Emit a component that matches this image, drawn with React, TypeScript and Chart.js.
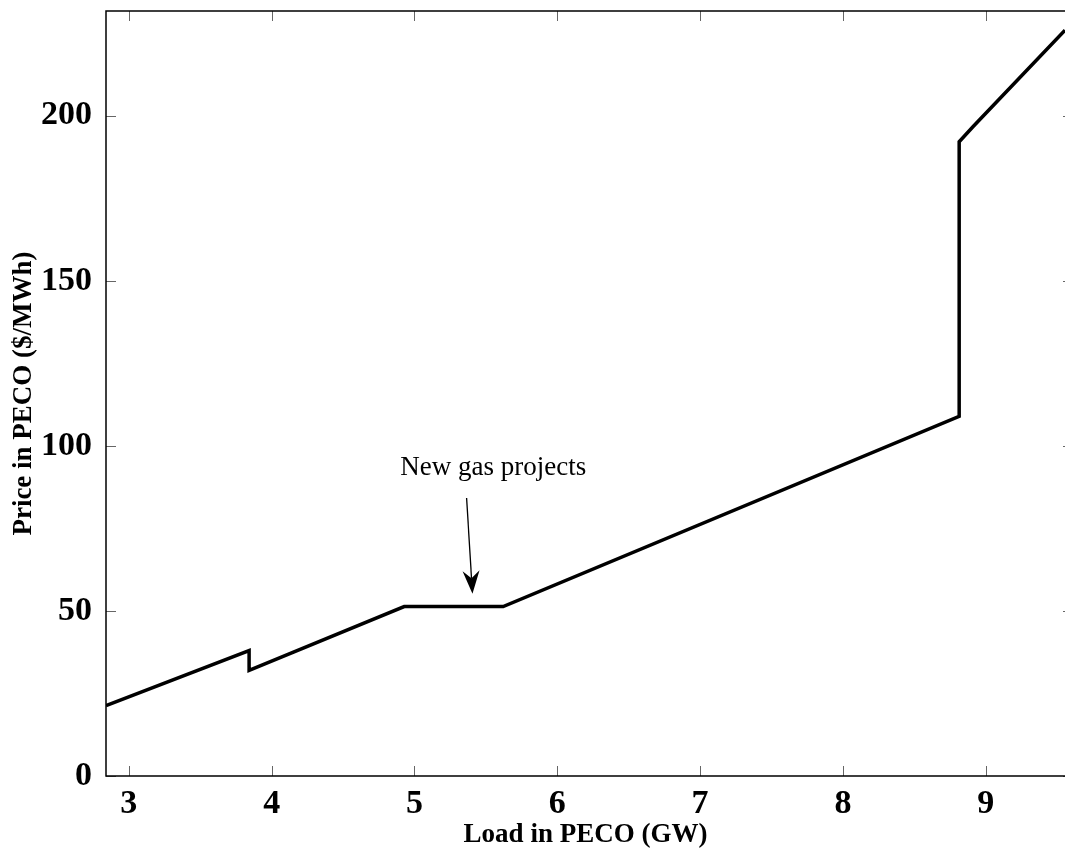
import { useEffect, useRef } from 'react';
import { Chart, registerables } from 'chart.js';

Chart.register(...registerables);

// Supply curve: price vs. load in PECO
const loadGW = [2.84, 3.842, 3.842, 4.928, 5.621, 8.814, 8.814, 8.912, 9.555];
const priceUSD = [21.3, 38.0, 32.0, 51.3, 51.3, 108.9, 192.1, 196.7, 225.9];

const xTicks = [3, 4, 5, 6, 7, 8, 9];
const yTicks = [0, 50, 100, 150, 200];
const xRange = [2.84, 9.555];
const yRange = [0, 231.7];

const noteText = 'New gas projects';
const noteAnchor = { x: 5.552, y: 91.2 };
const arrowTail = { x: 5.365, y: 84.2 };
const arrowTip = { x: 5.406, y: 55.2 };

const SERIF = "'Liberation Serif', 'Times New Roman', Times, serif";

const framePlugin = {
  id: 'frame',
  beforeDatasetsDraw(chart: any) {
    const { ctx, chartArea: a, scales } = chart;
    ctx.save();
    ctx.strokeStyle = '#666';
    ctx.lineWidth = 1;
    ctx.beginPath();
    for (const v of xTicks) {
      const px = Math.round(scales.x.getPixelForValue(v)) + 0.5;
      ctx.moveTo(px, a.bottom);
      ctx.lineTo(px, a.bottom - 10);
      ctx.moveTo(px, a.top);
      ctx.lineTo(px, a.top + 10);
    }
    for (const v of yTicks) {
      const py = Math.round(scales.y.getPixelForValue(v)) + 0.5;
      ctx.moveTo(a.left, py);
      ctx.lineTo(a.left + 10, py);
      ctx.moveTo(a.right, py);
      ctx.lineTo(a.right - 2, py);
    }
    ctx.stroke();
    // left, top and bottom edges of the axes box
    ctx.strokeStyle = '#000';
    ctx.lineWidth = 1.5;
    ctx.beginPath();
    ctx.moveTo(a.right, a.top);
    ctx.lineTo(a.left, a.top);
    ctx.lineTo(a.left, a.bottom);
    ctx.lineTo(a.right, a.bottom);
    ctx.stroke();
    ctx.restore();
  },
  afterDatasetsDraw(chart: any) {
    const { ctx, scales } = chart;
    const sx = scales.x, sy = scales.y;
    ctx.save();
    ctx.fillStyle = '#000';
    ctx.font = `27px ${SERIF}`;
    ctx.textAlign = 'center';
    ctx.textBaseline = 'alphabetic';
    ctx.fillText(noteText, sx.getPixelForValue(noteAnchor.x), sy.getPixelForValue(noteAnchor.y));

    const x0 = sx.getPixelForValue(arrowTail.x), y0 = sy.getPixelForValue(arrowTail.y);
    const x1 = sx.getPixelForValue(arrowTip.x), y1 = sy.getPixelForValue(arrowTip.y);
    const dx = x1 - x0, dy = y1 - y0;
    const len = Math.hypot(dx, dy);
    const ux = dx / len, uy = dy / len;
    const nx = -uy, ny = ux;
    const headLen = 23, headHalf = 8.5;
    const bx = x1 - ux * headLen, by = y1 - uy * headLen;
    const kx = x1 - ux * headLen * 0.68, ky = y1 - uy * headLen * 0.68;
    ctx.strokeStyle = '#000';
    ctx.lineWidth = 1.3;
    ctx.beginPath();
    ctx.moveTo(x0, y0);
    ctx.lineTo(kx, ky);
    ctx.stroke();
    ctx.beginPath();
    ctx.moveTo(x1, y1);
    ctx.lineTo(bx + nx * headHalf, by + ny * headHalf);
    ctx.lineTo(kx, ky);
    ctx.lineTo(bx - nx * headHalf, by - ny * headHalf);
    ctx.closePath();
    ctx.fill();
    ctx.restore();
  },
};

export default function App() {
  const ref = useRef<HTMLCanvasElement | null>(null);

  useEffect(() => {
    if (!ref.current) return;
    const chart = new Chart(ref.current, {
      type: 'line',
      data: {
        datasets: [
          {
            data: loadGW.map((x, i) => ({ x, y: priceUSD[i] })),
            borderColor: '#000',
            borderWidth: 3.5,
            pointRadius: 0,
            tension: 0,
            fill: false,
          },
        ],
      },
      options: {
        animation: false,
        responsive: false,
        devicePixelRatio: 1,
        layout: { padding: { top: 11, right: 0, left: 0, bottom: 0 } },
        plugins: { legend: { display: false }, tooltip: { enabled: false } },
        scales: {
          x: {
            type: 'linear',
            min: xRange[0],
            max: xRange[1],
            grid: { display: false },
            border: { display: false },
            afterBuildTicks: (s: any) => {
              s.ticks = xTicks.map((v) => ({ value: v }));
            },
            afterFit: (s: any) => {
              s.height = 74;
              s.paddingLeft = 0;
              s.paddingRight = 0;
            },
            ticks: {
              color: '#000',
              padding: 0,
              autoSkip: false,
              maxRotation: 0,
              font: { family: SERIF, size: 34, weight: 'bold' },
              callback: (v: any) => String(v),
            },
            title: {
              display: true,
              text: 'Load in PECO (GW)',
              color: '#000',
              padding: { top: 0, bottom: 0 },
              font: { family: SERIF, size: 27, weight: 'bold', lineHeight: 1.1 },
            },
          },
          y: {
            type: 'linear',
            min: yRange[0],
            max: yRange[1],
            grid: { display: false },
            border: { display: false },
            afterBuildTicks: (s: any) => {
              s.ticks = yTicks.map((v) => ({ value: v }));
            },
            afterFit: (s: any) => {
              s.width = 106;
              s.paddingTop = 0;
              s.paddingBottom = 0;
            },
            ticks: {
              color: '#000',
              padding: 6,
              autoSkip: false,
              font: { family: SERIF, size: 34, weight: 'bold' },
              callback: (v: any) => String(v),
            },
            title: {
              display: true,
              text: 'Price in PECO ($/MWh)',
              color: '#000',
              padding: { top: 8, bottom: 0 },
              font: { family: SERIF, size: 27, weight: 'bold' },
            },
          },
        },
      },
      plugins: [framePlugin],
    } as any);
    return () => chart.destroy();
  }, []);

  return (
    <div style={{ position: 'absolute', left: 0, top: 0, width: 1065, height: 850, background: '#fff' }}>
      <canvas ref={ref} width={1065} height={850} />
    </div>
  );
}
